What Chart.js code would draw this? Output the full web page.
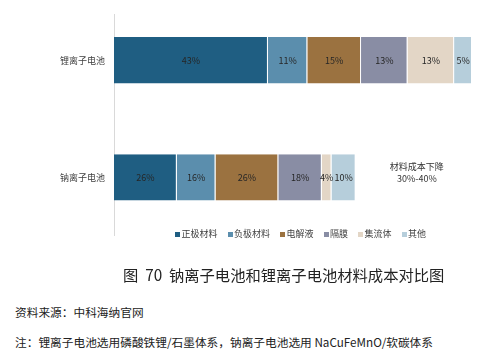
<!DOCTYPE html>
<html>
<head>
<meta charset="utf-8">
<script src="https://cdn.jsdelivr.net/npm/chart.js@4/dist/chart.umd.min.js"></script>
<style>
  html, body { margin: 0; padding: 0; background: #ffffff; }
  body { width: 493px; height: 357px; position: relative; overflow: hidden;
         font-family: "Noto Sans CJK SC", "Noto Sans", sans-serif; }
  #wrap { position: absolute; left: 0; top: 0; width: 493px; height: 250px; }
  #legend { position: absolute; left: 175px; top: 228px; display: flex; align-items: center;
            font-size: 9px; color: #404040; line-height: 12px; white-space: nowrap; }
  #legend .item { display: flex; align-items: center; margin-right: 10px; }
  #legend .box { width: 5px; height: 5px; margin-right: 1.5px; }
  .txt { position: absolute; white-space: pre; color: #222; }
  #title { left: 123px; top: 264px; font-size: 15.3px; line-height: 20px; }
  #source { left: 15px; top: 304px; font-size: 11.7px; line-height: 16px; }
  #note { left: 15px; top: 334px; font-size: 11.7px; line-height: 16px; }
</style>
</head>
<body>
<div id="wrap"><canvas id="c" width="493" height="250"></canvas></div>
<div id="legend"></div>
<div class="txt" id="title"></div>
<div class="txt" id="source"></div>
<div class="txt" id="note"></div>
<script>
// ---- data ----
const categories = ['锂离子电池', '钠离子电池'];
const seriesNames = ['正极材料', '负极材料', '电解液', '隔膜', '集流体', '其他'];
const seriesColors = ['#1f5e82', '#5b8ead', '#9b7240', '#898da4', '#e3d6c6', '#b6cedb'];
const lithiumShares = [43, 11, 15, 13, 13, 5];   // % of lithium-ion material cost
const sodiumShares  = [26, 16, 26, 18, 4, 10];   // % of sodium-ion material cost
const totalCostIndex = [100, 67.5];              // bar length, lithium-ion = 100
const annotationLines = ['材料成本下降', '30%-40%'];
const titleText = '图  70  钠离子电池和锂离子电池材料成本对比图';
const sourceText = '资料来源：中科海纳官网';
const noteText = '注：锂离子电池选用磷酸铁锂/石墨体系，钠离子电池选用 NaCuFeMnO/软碳体系';

const sharesByCategory = [lithiumShares, sodiumShares];

document.getElementById('title').textContent = titleText;
document.getElementById('source').textContent = sourceText;
document.getElementById('note').textContent = noteText;

const legendEl = document.getElementById('legend');
seriesNames.forEach((n, i) => {
  const it = document.createElement('span'); it.className = 'item';
  const b = document.createElement('span'); b.className = 'box'; b.style.background = seriesColors[i];
  const t = document.createElement('span'); t.textContent = n;
  it.appendChild(b); it.appendChild(t); legendEl.appendChild(it);
});

const datasets = seriesNames.map((name, i) => ({
  label: name,
  data: categories.map((c, j) => ({ x: sharesByCategory[j][i] * totalCostIndex[j] / 100, y: j })),
  backgroundColor: seriesColors[i],
  borderColor: 'rgba(255,255,255,0.55)',
  borderWidth: { left: 0, right: 1, top: 0, bottom: 0 },
  borderSkipped: false,
  grouped: false,
  categoryPercentage: 1,
  barPercentage: 0.395
}));

const labelPlugin = {
  id: 'barLabels',
  afterDatasetsDraw(chart) {
    const ctx = chart.ctx;
    ctx.save();
    ctx.font = '9px "Noto Sans CJK SC", "Noto Sans", sans-serif';
    ctx.fillStyle = '#262626';
    ctx.textAlign = 'center';
    ctx.textBaseline = 'middle';
    chart.data.datasets.forEach((ds, d) => {
      const meta = chart.getDatasetMeta(d);
      meta.data.forEach((el, j) => {
        const p = el.getCenterPoint();
        ctx.fillText(sharesByCategory[j][d] + '%', p.x, p.y + 0.5);
      });
    });
    // annotation next to sodium bar
    const xs = chart.scales.x, ys = chart.scales.y;
    const ax = xs.getPixelForValue(84.6);
    const ay = ys.getPixelForValue(1) - 5;
    ctx.fillStyle = '#333333';
    annotationLines.forEach((line, k) => {
      ctx.fillText(line, ax, ay + (k - (annotationLines.length - 1) / 2) * 12.5);
    });
    ctx.restore();
  }
};

new Chart(document.getElementById('c'), {
  type: 'bar',
  data: { datasets },
  plugins: [labelPlugin],
  options: {
    indexAxis: 'y',
    responsive: false,
    animation: false,
    layout: { padding: { top: 5, bottom: 11, right: 21, left: 0 } },
    plugins: { legend: { display: false }, tooltip: { enabled: false } },
    scales: {
      x: { type: 'linear', stacked: true, min: 0, max: 100, display: false },
      y: {
        type: 'linear',
        offset: false,
        reverse: true,
        min: -0.391,
        max: 1.496,
        afterBuildTicks: (scale) => { scale.ticks = categories.map((c, i) => ({ value: i })); },
        afterFit: (scale) => { scale.width = 114; },
        grid: { display: false, drawTicks: false, offset: false },
        border: { display: true, color: '#d9d9d9', width: 1 },
        ticks: {
          autoSkip: false,
          padding: 9,
          color: '#404040',
          font: { size: 9, family: '"Noto Sans CJK SC", "Noto Sans", sans-serif' },
          callback: (v) => categories[v]
        }
      }
    }
  }
});
</script>
</body>
</html>
